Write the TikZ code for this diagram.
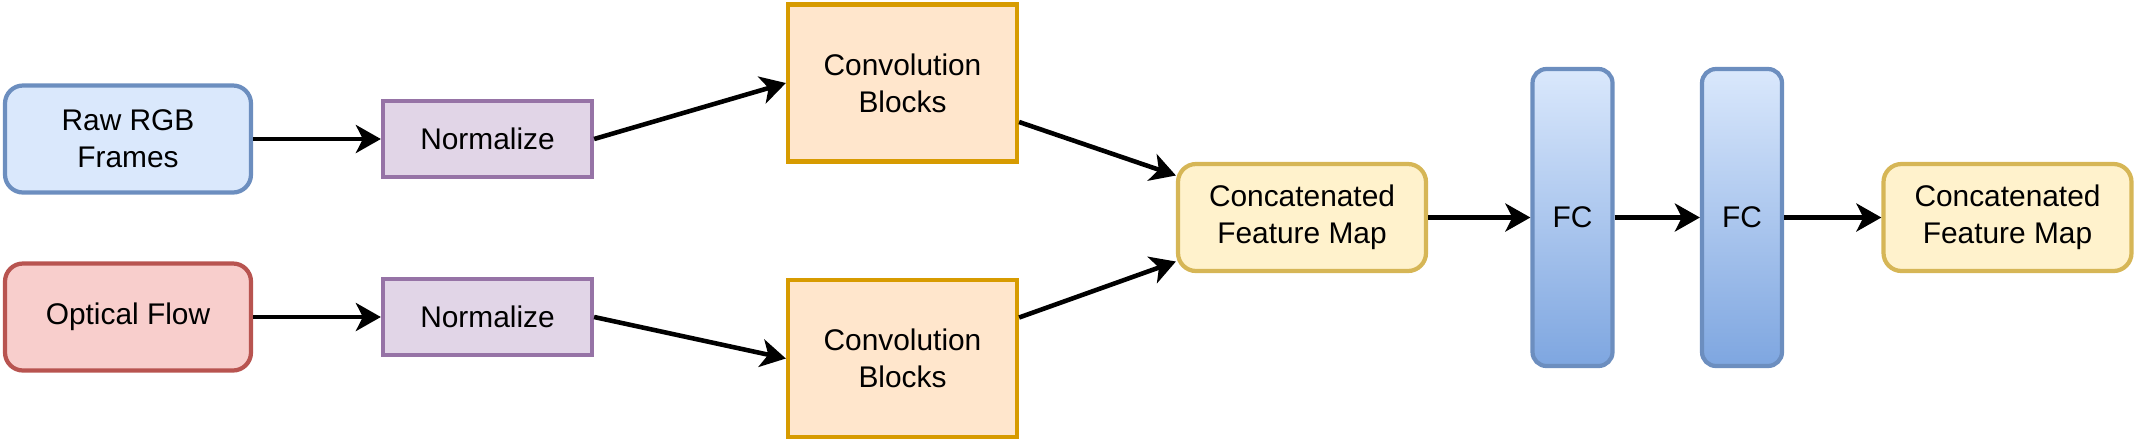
\documentclass[tikz,border=0pt]{standalone}
\usepackage{fontspec}
\setmainfont{Liberation Sans}
\usetikzlibrary{arrows.meta}
\definecolor{blueFill}{HTML}{DAE8FC}
\definecolor{blueLine}{HTML}{6C8EBF}
\definecolor{redFill}{HTML}{F8CECC}
\definecolor{redLine}{HTML}{B85450}
\definecolor{purpleFill}{HTML}{E1D5E7}
\definecolor{purpleLine}{HTML}{9673A6}
\definecolor{orangeFill}{HTML}{FFE6CC}
\definecolor{orangeLine}{HTML}{D79B00}
\definecolor{yellowFill}{HTML}{FFF2CC}
\definecolor{yellowLine}{HTML}{D6B656}
\definecolor{fcBottom}{HTML}{7EA6E0}
\begin{document}
\begin{tikzpicture}[
    box/.style={draw, line width=1.2pt, inner sep=0pt, align=center,
      font=\fontsize{8.5}{10.5}\selectfont},
    inputbox/.style={box, rounded corners=0.18cm, minimum width=2.46cm,
      minimum height=1.07cm},
    normbox/.style={box, draw=purpleLine, fill=purpleFill,
      minimum width=2.09cm, minimum height=0.76cm},
    convbox/.style={box, draw=orangeLine, fill=orangeFill,
      minimum width=2.29cm, minimum height=1.57cm},
    mapbox/.style={box, rounded corners=0.18cm, draw=yellowLine,
      fill=yellowFill, minimum width=2.48cm, minimum height=1.07cm},
    fcbox/.style={box, rounded corners=0.14cm, draw=blueLine,
      top color=blueFill, bottom color=fcBottom,
      minimum width=0.8cm, minimum height=2.97cm},
    flow/.style={-{Stealth[length=0.25cm, width=0.28cm, inset=0.07cm]},
      line width=1.3pt}]
  \useasboundingbox (0,0) rectangle (21.36,-4.41);
  \node (raw) at (1.28,-1.39) [inputbox, draw=blueLine, fill=blueFill]
    {Raw RGB\\Frames};
  \node (optflow) at (1.28,-3.17) [inputbox, draw=redLine, fill=redFill]
    {Optical Flow};
  \node (normA) at (4.875,-1.39) [normbox] {Normalize};
  \node (normB) at (4.875,-3.17) [normbox] {Normalize};
  \node (convA) at (9.025,-0.83) [convbox] {Convolution\\Blocks};
  \node (convB) at (9.025,-3.585) [convbox] {Convolution\\Blocks};
  \node (concat) at (13.02,-2.175) [mapbox] {Concatenated\\Feature Map};
  \node (fcA) at (15.725,-2.175) [fcbox] {FC};
  \node (fcB) at (17.42,-2.175) [fcbox] {FC};
  \node (result) at (20.075,-2.175) [mapbox] {Concatenated\\Feature Map};
  \draw[flow] (raw.east) -- (normA.west);
  \draw[flow] (optflow.east) -- (normB.west);
  \draw[flow] (normA.east) -- (convA.west);
  \draw[flow] (normB.east) -- (convB.west);
  \draw[flow] ([yshift=-0.39cm]convA.east) -- ([yshift=0.42cm]concat.west);
  \draw[flow] ([yshift=0.41cm]convB.east) -- ([yshift=-0.44cm]concat.west);
  \draw[flow] (concat.east) -- (fcA.west);
  \draw[flow] (fcA.east) -- (fcB.west);
  \draw[flow] (fcB.east) -- (result.west);
\end{tikzpicture}
\end{document}
